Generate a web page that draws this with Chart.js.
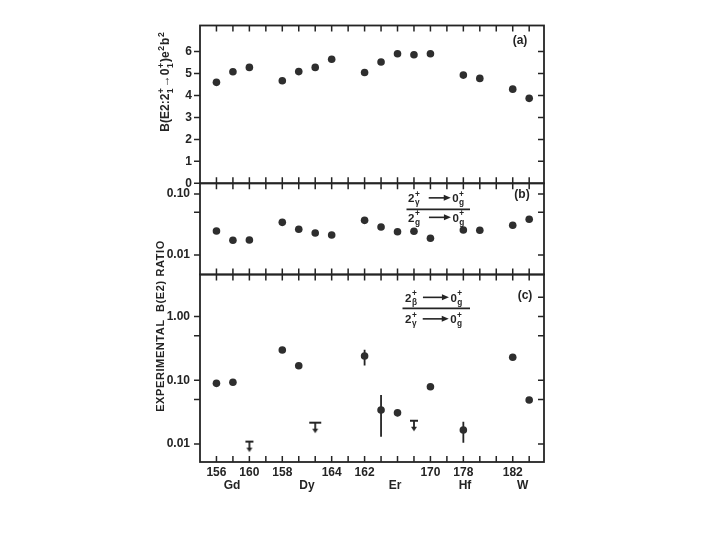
<!DOCTYPE html>
<html>
<head>
<meta charset="utf-8">
<script src="https://cdn.jsdelivr.net/npm/chart.js@4.4.0/dist/chart.umd.min.js"></script>
<style>
  body { margin: 0; background: #fff; }
  #wrap { position: relative; width: 720px; height: 540px; }
  canvas { position: absolute; left: 0; top: 0; }
</style>
</head>
<body>
<div id="wrap">
  <canvas id="pa" width="720" height="540"></canvas>
  <canvas id="pb" width="720" height="540"></canvas>
  <canvas id="pc" width="720" height="540"></canvas>
</div>
<script>
// x positions (slot index) of the nuclei, shared by all three panels
const xTickIdx = [0,1,2,3,4,5,6,7,8,9,10,11,12,13,14,15,16,17,18,19];
const numIdx  = [0, 2, 4, 7, 9, 13, 15, 18];
const numText = ['156','160','158','164','162','170','178','182'];
const elemNames = ['Gd','Dy','Er','Hf','W'];
const elemPos   = [0.95, 5.5, 10.85, 15.1, 18.6];

// (a) B(E2; 2+ -> 0+) in e2b2  and  (b) gamma/ground ratio
const idxAB = [0,1,2,4,5,6,7,9,10,11,12,13,15,16,18,19];
const bE2 = [4.60,5.08,5.28,4.67,5.09,5.28,5.65,5.05,5.53,5.90,5.86,5.90,4.93,4.78,4.29,3.87];
const ratioGamma = [0.0247,0.0174,0.0176,0.0343,0.0264,0.0230,0.0213,0.0370,0.0288,0.0241,0.0245,0.0188,0.0257,0.0254,0.0307,0.0385];

// (c) beta/gamma ratio, with error bars and upper limits
const idxC = [0,1,4,5,9,10,11,13,15,18,19];
const ratioBeta = [0.0895,0.093,0.298,0.169,0.24,0.0341,0.031,0.079,0.0166,0.229,0.049];
const errLo = [null,null,null,null,0.17,0.013,0.027,null,0.0105,null,0.044];
const errHi = [null,null,null,null,0.30,0.0587,0.034,null,0.0224,null,0.054];
const limIdx = [2, 6, 12];
const limVal = [0.0109, 0.0216, 0.0232];

// axis ticks
const aTicks = [0,1,2,3,4,5,6];
const aRight = [1,2,3,4,5,6];
const bTicks = [0.01, 0.1];
const bSide = [0.01, 0.05, 0.1];
const cTicks = [0.01, 0.1, 1];
const cLeft = [0.01, 0.05, 0.1, 0.5, 1];
const cRight = [0.01, 0.05, 0.1, 0.5, 1, 2];

const ink = '#242424';
const dot = '#2e2e2e';
const FONT = "'Liberation Sans Narrow', 'Liberation Sans', Arial, sans-serif";
const bold = s => 'bold ' + s + 'px ' + FONT;
const R = 544;

// text with stacked super/subscripts and drawn arrows
function runRich(ctx, parts, x, y, size, paint) {
  let cx = x;
  for (const p of parts) {
    if (typeof p === 'string') {
      ctx.font = bold(size);
      if (paint) ctx.fillText(p, cx, y);
      cx += ctx.measureText(p).width;
    } else if (p.arrow) {
      const x1 = cx + p.pre, x2 = x1 + p.arrow, ay = y - size * 0.36;
      if (paint) {
        ctx.lineWidth = 1.6;
        ctx.beginPath(); ctx.moveTo(x1, ay); ctx.lineTo(x2 - 5, ay); ctx.stroke();
        ctx.beginPath(); ctx.moveTo(x2, ay); ctx.lineTo(x2 - 7, ay - 3); ctx.lineTo(x2 - 7, ay + 3); ctx.closePath(); ctx.fill();
      }
      cx = x2 + 1.5;
    } else {
      ctx.font = bold(size * 0.72);
      let w = 0;
      if (p[0]) { if (paint) ctx.fillText(p[0], cx + 0.5, y - size * 0.45); w = Math.max(w, ctx.measureText(p[0]).width); }
      if (p[1]) { if (paint) ctx.fillText(p[1], cx + 0.5, y + size * 0.3); w = Math.max(w, ctx.measureText(p[1]).width); }
      cx += w + 1.5;
    }
  }
  return cx - x;
}

function vRich(ctx, parts, x, y, size) {
  ctx.save();
  ctx.translate(x, y);
  ctx.rotate(-Math.PI / 2);
  ctx.textAlign = 'left'; ctx.textBaseline = 'alphabetic';
  const w = runRich(ctx, parts, 0, 0, size, false);
  runRich(ctx, parts, -w / 2, size * 0.36, size, true);
  ctx.restore();
}

function limitMark(w) {
  const c = document.createElement('canvas');
  c.width = 16; c.height = 24;
  const g = c.getContext('2d');
  g.strokeStyle = g.fillStyle = ink;
  g.lineWidth = 1.8;
  g.beginPath();
  g.moveTo(8 - w / 2, 12); g.lineTo(8 + w / 2, 12);
  g.moveTo(8, 12); g.lineTo(8, 19);
  g.stroke();
  g.beginPath(); g.moveTo(5, 18); g.lineTo(11, 18); g.lineTo(8, 22.5); g.closePath(); g.fill();
  return c;
}

function frame(left, right, extra) {
  return {
    id: 'frame',
    afterDraw(chart) {
      const { ctx, chartArea: a, scales: { x, y } } = chart;
      ctx.save();
      ctx.strokeStyle = ink; ctx.fillStyle = ink;
      ctx.lineWidth = 1.8;
      ctx.strokeRect(a.left, a.top, a.right - a.left, a.bottom - a.top);
      ctx.lineWidth = 1.5;
      ctx.beginPath();
      xTickIdx.forEach(i => {
        const px = x.getPixelForValue(i);
        ctx.moveTo(px, a.top); ctx.lineTo(px, a.top + 6);
        ctx.moveTo(px, a.bottom); ctx.lineTo(px, a.bottom - 6);
      });
      left.forEach(v => { const py = y.getPixelForValue(v); ctx.moveTo(a.left - 6, py); ctx.lineTo(a.left, py); });
      right.forEach(v => { const py = y.getPixelForValue(v); ctx.moveTo(a.right - 6, py); ctx.lineTo(a.right, py); });
      ctx.stroke();
      if (extra) extra(ctx, chart);
      ctx.restore();
    }
  };
}

function label(ctx, s, x, y, size) {
  ctx.font = bold(size);
  ctx.textAlign = 'center'; ctx.textBaseline = 'middle';
  ctx.fillText(s, x, y);
}

function fraction(ctx, top, bottom, x0, y1, y2, barL, barR, barY) {
  ctx.textAlign = 'left'; ctx.textBaseline = 'alphabetic';
  runRich(ctx, top, x0, y1, 11.5, true);
  runRich(ctx, bottom, x0, y2, 11.5, true);
  ctx.lineWidth = 1.8;
  ctx.beginPath(); ctx.moveTo(barL, barY); ctx.lineTo(barR, barY); ctx.stroke();
}

function yAxis(extra) {
  return Object.assign({
    position: 'left',
    grid: { display: false, drawTicks: false },
    border: { display: false },
    afterFit: s => { s.width = 60; }
  }, extra);
}

function tickFont() { return { family: FONT, size: 12, weight: 'bold' }; }

function panel(id, top, bottom, y, datasets, plugins, showX) {
  const x = {
    type: 'linear', min: -1, max: 19.9, display: showX,
    grid: { display: false, drawTicks: false },
    border: { display: false },
    afterBuildTicks: s => { s.ticks = xTickIdx.map(v => ({ value: v })); },
    ticks: {
      autoSkip: false, maxRotation: 0, padding: 3, color: ink, font: tickFont(),
      callback: v => { const k = numIdx.indexOf(v); return k < 0 ? '' : numText[k]; }
    }
  };
  if (showX) x.afterFit = s => { s.height = 40; };
  return new Chart(document.getElementById(id), {
    type: 'scatter',
    data: { datasets },
    options: {
      responsive: false,
      animation: false,
      layout: { padding: { left: 140, right: 720 - R, top: top, bottom: 540 - bottom - (showX ? 40 : 0) } },
      plugins: { legend: { display: false }, tooltip: { enabled: false } },
      scales: { x: x, y: y }
    },
    plugins: plugins
  });
}

const dotStyle = { pointRadius: 3.8, pointBackgroundColor: dot, pointBorderWidth: 0 };

// panel (a)
panel('pa', 25.5, 183.3, yAxis({
  type: 'linear', min: 0, max: 7.19,
  afterBuildTicks: s => { s.ticks = aTicks.map(v => ({ value: v })); },
  ticks: { padding: 8, color: ink, font: tickFont() }
}), [Object.assign({ data: idxAB.map((i, k) => ({ x: i, y: bE2[k] })) }, dotStyle)],
[frame(aTicks, aRight, ctx => {
  label(ctx, '(a)', 520, 41, 12);
  vRich(ctx, ['B(E2:2', ['+', '1'], '\u2192', '0', ['+', '1'], ')e', ['2', ''], 'b', ['2', '']], 165, 81.5, 12);
})], false);

// panel (b)
panel('pb', 183.3, 274.5, yAxis({
  type: 'logarithmic', min: 0.00479, max: 0.1497,
  afterBuildTicks: s => { s.ticks = bTicks.map(v => ({ value: v })); },
  ticks: { padding: 10, color: ink, font: tickFont(), callback: v => Number(v).toFixed(2) }
}), [Object.assign({ data: idxAB.map((i, k) => ({ x: i, y: ratioGamma[k] })) }, dotStyle)],
[frame(bSide, bSide, ctx => {
  label(ctx, '(b)', 522, 195, 12);
  fraction(ctx,
    ['2', ['+', '\u03b3'], { arrow: 22, pre: 8 }, '0', ['+', 'g']],
    ['2', ['+', 'g'], { arrow: 22, pre: 8 }, '0', ['+', 'g']],
    408, 202, 221.5, 406.5, 470, 209.3);
})], false);

// panel (c)
const marks = [limitMark(8), limitMark(12), limitMark(8)];
panel('pc', 274.5, 462, yAxis({
  type: 'logarithmic', min: 0.00522, max: 4.56,
  afterBuildTicks: s => { s.ticks = cTicks.map(v => ({ value: v })); },
  ticks: { padding: 10, color: ink, font: tickFont(), callback: v => Number(v).toFixed(2) }
}), [
  Object.assign({ data: idxC.map((i, k) => ({ x: i, y: ratioBeta[k] })) }, dotStyle),
  { data: limIdx.map((i, k) => ({ x: i, y: limVal[k] })), pointStyle: marks, pointRadius: 4 }
], [{
  id: 'errbars',
  beforeDatasetsDraw(chart) {
    const { ctx, scales: { x, y } } = chart;
    ctx.save();
    ctx.strokeStyle = ink; ctx.lineWidth = 1.8;
    ctx.beginPath();
    idxC.forEach((i, k) => {
      if (errLo[k] == null) return;
      const px = x.getPixelForValue(i);
      ctx.moveTo(px, y.getPixelForValue(errHi[k]));
      ctx.lineTo(px, y.getPixelForValue(errLo[k]));
    });
    ctx.stroke();
    ctx.restore();
  }
}, frame(cLeft, cRight, (ctx, chart) => {
  label(ctx, '(c)', 525, 296, 12);
  fraction(ctx,
    ['2', ['+', '\u03b2'], { arrow: 26, pre: 5 }, '0', ['+', 'g']],
    ['2', ['+', '\u03b3'], { arrow: 26, pre: 5 }, '0', ['+', 'g']],
    405, 301.5, 323, 402.5, 470, 308.3);
  const x = chart.scales.x;
  elemNames.forEach((n, k) => label(ctx, n, x.getPixelForValue(elemPos[k]), 486, 12));
  ctx.save();
  ctx.translate(161, 326);
  ctx.rotate(-Math.PI / 2);
  ctx.letterSpacing = '0.6px';
  label(ctx, 'EXPERIMENTAL  B(E2) RATIO', 0, 0, 11);
  ctx.restore();
})], true);
</script>
</body>
</html>
